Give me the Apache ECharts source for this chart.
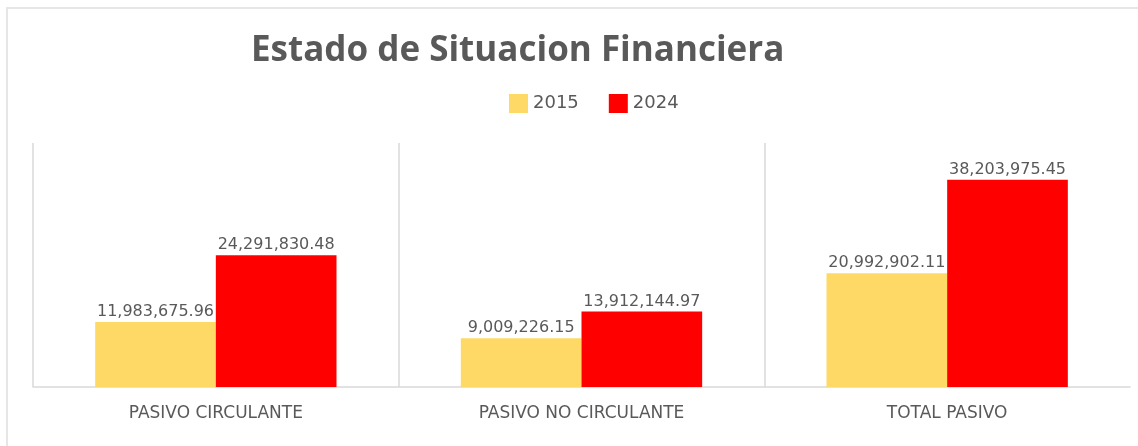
<!DOCTYPE html>
<html>
<head>
<meta charset="utf-8">
<script src="https://cdn.jsdelivr.net/npm/echarts@6/dist/echarts.min.js"></script>
<style>
  html, body { margin: 0; padding: 0; background: #fff; overflow: hidden; }
  #marco {
    position: absolute; left: 6px; top: 7px; width: 1200px; height: 500px;
    border-left: 2px solid #E6E6E6; border-top: 2px solid #E6E6E6;
  }
  #chart { position: absolute; left: 0; top: 0; width: 1138px; height: 446px; }
</style>
</head>
<body>
<div id="marco"></div>
<div id="chart"></div>
<script>
// categorias y valores
const categorias = ["PASIVO CIRCULANTE", "PASIVO NO CIRCULANTE", "TOTAL PASIVO"];
const anios = ["2015", "2024"];
const valores2015 = [11983675.96, 9009226.15, 20992902.11];
const valores2024 = [24291830.48, 13912144.97, 38203975.45];

const gris = "#595959";
const fmt = (v) =>
  v.toLocaleString("en-US", { minimumFractionDigits: 2, maximumFractionDigits: 2 });

var myChart = echarts.init(document.getElementById("chart"));

const etiqueta = {
  show: true,
  position: "top",
  distance: 2,
  color: gris,
  fontFamily: "DejaVu Sans",
  fontSize: 16,
  formatter: (p) => fmt(p.value),
};

myChart.setOption({
  animation: false,
  title: {
    text: "Estado de Situacion Financiera",
    left: 246,
    top: 29,
    textStyle: {
      fontFamily: "Open Sans",
      fontWeight: "bold",
      fontSize: 35,
      color: gris,
    },
  },
  legend: {
    data: anios,
    left: 504,
    top: 89,
    itemWidth: 19,
    itemHeight: 19,
    itemGap: 30,
    icon: "rect",
    textStyle: { color: gris, fontSize: 18, fontFamily: "DejaVu Sans" },
  },
  grid: { left: 33, right: 8, top: 143, bottom: 59 },
  xAxis: {
    type: "category",
    data: categorias,
    axisLine: { lineStyle: { color: "#D9D9D9", width: 1.5 } },
    axisTick: { show: false },
    splitLine: {
      show: true,
      showMaxLine: false,
      lineStyle: { color: "#D9D9D9", width: 1.5 },
    },
    axisLabel: {
      color: gris,
      fontSize: 17,
      fontFamily: "DejaVu Sans",
      margin: 18,
    },
  },
  yAxis: {
    type: "value",
    min: 0,
    max: 45000000,
    show: false,
    splitLine: { show: false },
  },
  series: [
    {
      name: anios[0],
      type: "bar",
      data: valores2015,
      barGap: 0,
      barCategoryGap: "34%",
      itemStyle: { color: "#FFD966" },
      label: etiqueta,
    },
    {
      name: anios[1],
      type: "bar",
      data: valores2024,
      itemStyle: { color: "#FF0000" },
      label: etiqueta,
    },
  ],
});
</script>
</body>
</html>
